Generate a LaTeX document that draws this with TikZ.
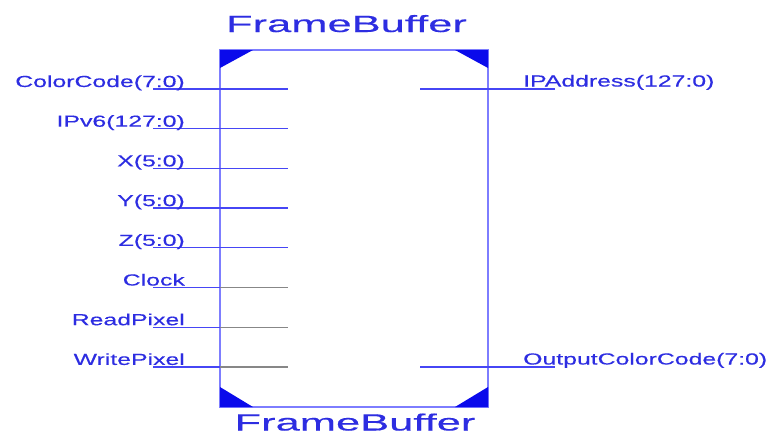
\documentclass[tikz,border=0pt]{standalone}
\usepackage{fontspec}
\newfontfamily\portfont[FakeStretch=1.55,FakeBold=0.4]{Liberation Sans}
\newfontfamily\titlefont[FakeStretch=1.85,FakeBold=0.4]{Liberation Sans}
\definecolor{textBlue}{RGB}{45,45,225}
\definecolor{wireBlue}{RGB}{70,70,245}
\definecolor{edgeBlue}{RGB}{125,125,255}
\definecolor{markBlue}{RGB}{10,10,235}
\definecolor{wireGray}{RGB}{135,135,135}
\usetikzlibrary{positioning,calc}

\begin{document}
\begin{tikzpicture}[x=1pt, y=-1pt,
    portline/.style={line width=1.3pt, wireBlue},
    portlabel/.style={textBlue, inner sep=0pt, font=\fontsize{16}{19}\portfont},
    titletext/.style={textBlue, inner sep=0pt, font=\fontsize{23.5}{28}\titlefont}]
    \useasboundingbox (0,0) rectangle (774,434);

    % Symbol body
    \node[draw=edgeBlue, line width=1.3pt, minimum width=268pt, minimum height=357pt,
          inner sep=0pt, outer sep=0pt] (fb) at (354,228.5) {};

    % Corner marks
    \fill[markBlue] (fb.north west) -- ++(33,0) -- ++(-33,18) -- cycle;
    \fill[markBlue] (fb.north east) -- ++(-33,0) -- ++(33,18) -- cycle;
    \fill[markBlue] (fb.south west) -- ++(33,0) -- ++(-33,-20) -- cycle;
    \fill[markBlue] (fb.south east) -- ++(-33,0) -- ++(33,-20) -- cycle;

    % Instance name, above and below
    \node[titletext, anchor=base] (topname) at (346.5,32) {FrameBuffer};
    \node[titletext, anchor=base] (botname) at (355,430.5) {FrameBuffer};

    % Input ports (left)
    \foreach \sig/\inside [count=\i] in {ColorCode(7:0)/wireBlue, IPv6(127:0)/wireBlue,
        X(5:0)/wireBlue, Y(5:0)/wireBlue, Z(5:0)/wireBlue, Clock/wireGray,
        ReadPixel/wireGray, WritePixel/wireGray} {
      \coordinate (in\i) at (153,{89+(\i-1)*39.7});
      \coordinate (edge\i) at (fb.west |- in\i);
      \coordinate (tip\i) at (288,{89+(\i-1)*39.7});
      \draw[portline] (in\i) -- (edge\i);
      \draw[portline, draw=\inside] (edge\i) -- (tip\i);
      \node[portlabel, anchor=base east] (lbl\i) at (185,{87+(\i-1)*39.7}) {\sig};
    }

    % Output ports (right)
    \foreach \sig/\yy [count=\j] in {IPAddress(127:0)/89, OutputColorCode(7:0)/367} {
      \coordinate (otip\j) at (420,\yy);
      \coordinate (oedge\j) at (fb.east |- otip\j);
      \coordinate (out\j) at (555,\yy);
      \draw[portline] (otip\j) -- (oedge\j) -- (out\j);
      \node[portlabel, anchor=base west] (olbl\j) at (523,\yy-2.5) {\sig};
    }
\end{tikzpicture}
\end{document}
